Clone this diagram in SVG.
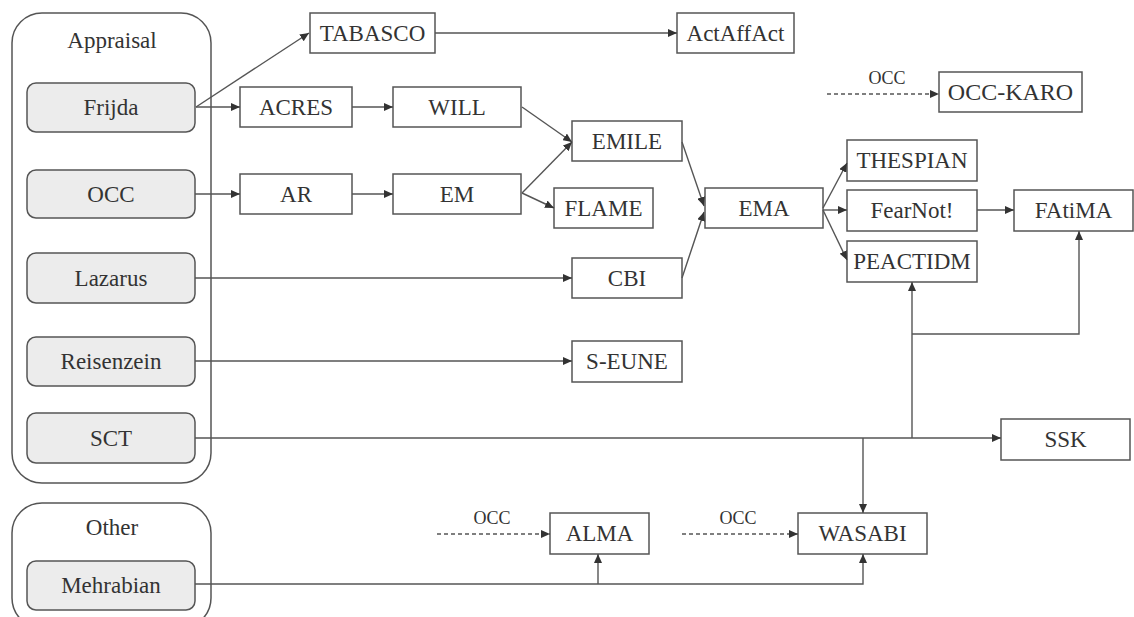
<svg xmlns="http://www.w3.org/2000/svg" width="1134" height="617" viewBox="0 0 1134 617">
<style>
.grp{fill:#fff;stroke:#555;stroke-width:1.5}
.src{fill:#ececec;stroke:#555;stroke-width:1.5}
.box{fill:#fff;stroke:#555;stroke-width:1.5}
.t{font-family:"Liberation Serif",serif;font-size:23px;fill:#333;text-anchor:middle}
.s{font-family:"Liberation Serif",serif;font-size:18px;fill:#333;text-anchor:middle}
.c{fill:none;stroke:#555;stroke-width:1.4}
.d{fill:none;stroke:#555;stroke-width:1.4;stroke-dasharray:4 3}
</style>
<defs>
<marker id="ah" markerUnits="userSpaceOnUse" markerWidth="9" markerHeight="8" refX="9" refY="4" orient="auto">
<path d="M0,0 L9,4 L0,8 z" fill="#333"/>
</marker>
</defs>
<rect width="1134" height="617" fill="#fff"/>
<g id="appraisal"><rect class="grp" x="12" y="13" width="199" height="470" rx="30"/><text class="t" x="112" y="48">Appraisal</text></g>
<g id="other"><rect class="grp" x="12" y="503" width="199" height="125" rx="30"/><text class="t" x="112" y="535">Other</text></g>
<g id="frijda"><rect class="src" x="27" y="83" width="168" height="49" rx="9"/><text class="t" x="111" y="115">Frijda</text></g>
<g id="occ"><rect class="src" x="27" y="170" width="168" height="48" rx="9"/><text class="t" x="111" y="202">OCC</text></g>
<g id="lazarus"><rect class="src" x="27" y="253" width="168" height="50" rx="9"/><text class="t" x="111" y="286">Lazarus</text></g>
<g id="reisenzein"><rect class="src" x="27" y="337" width="168" height="49" rx="9"/><text class="t" x="111" y="369">Reisenzein</text></g>
<g id="sct"><rect class="src" x="27" y="413" width="168" height="50" rx="9"/><text class="t" x="111" y="446">SCT</text></g>
<g id="mehrabian"><rect class="src" x="27" y="561" width="168" height="49" rx="9"/><text class="t" x="111" y="593">Mehrabian</text></g>
<g id="tabasco"><rect class="box" x="310" y="13" width="125" height="40"/><text class="t" x="372.5" y="41">TABASCO</text></g>
<g id="actaffact"><rect class="box" x="677" y="13" width="117" height="40"/><text class="t" x="735.5" y="41">ActAffAct</text></g>
<g id="acres"><rect class="box" x="240" y="87" width="112" height="40"/><text class="t" x="296" y="115">ACRES</text></g>
<g id="will"><rect class="box" x="393" y="87" width="128" height="40"/><text class="t" x="457" y="115">WILL</text></g>
<g id="ar"><rect class="box" x="240" y="174" width="112" height="40"/><text class="t" x="296" y="202">AR</text></g>
<g id="em"><rect class="box" x="393" y="174" width="128" height="40"/><text class="t" x="457" y="202">EM</text></g>
<g id="emile"><rect class="box" x="572" y="121" width="110" height="40"/><text class="t" x="627" y="149">EMILE</text></g>
<g id="flame"><rect class="box" x="554" y="188" width="99" height="40"/><text class="t" x="603.5" y="216">FLAME</text></g>
<g id="ema"><rect class="box" x="705" y="188" width="118" height="40"/><text class="t" x="764" y="216">EMA</text></g>
<g id="cbi"><rect class="box" x="572" y="258" width="110" height="40"/><text class="t" x="627" y="286">CBI</text></g>
<g id="seune"><rect class="box" x="572" y="341" width="110" height="41"/><text class="t" x="627" y="369">S-EUNE</text></g>
<g id="thespian"><rect class="box" x="847" y="140" width="130" height="41"/><text class="t" x="912" y="168">THESPIAN</text></g>
<g id="fearnot"><rect class="box" x="847" y="190" width="130" height="41"/><text class="t" x="912" y="218">FearNot!</text></g>
<g id="peactidm"><rect class="box" x="847" y="241" width="130" height="41"/><text class="t" x="912" y="269">PEACTIDM</text></g>
<g id="fatima"><rect class="box" x="1014" y="190" width="119" height="41"/><text class="t" x="1073.5" y="218">FAtiMA</text></g>
<g id="occkaro"><rect class="box" x="939" y="72" width="143" height="40"/><text class="t" x="1010.5" y="100" style="font-size:24px">OCC-KARO</text></g>
<g id="ssk"><rect class="box" x="1001" y="419" width="129" height="41"/><text class="t" x="1065.5" y="447">SSK</text></g>
<g id="alma"><rect class="box" x="550" y="513" width="99" height="41"/><text class="t" x="599.5" y="541">ALMA</text></g>
<g id="wasabi"><rect class="box" x="798" y="513" width="129" height="41"/><text class="t" x="862.5" y="541">WASABI</text></g>
<g id="connectors">
<line class="c" x1="196" y1="107" x2="309" y2="33" marker-end="url(#ah)"/>
<line class="c" x1="196" y1="107" x2="240" y2="107" marker-end="url(#ah)"/>
<line class="c" x1="352" y1="107" x2="393" y2="107" marker-end="url(#ah)"/>
<line class="c" x1="195" y1="194" x2="240" y2="194" marker-end="url(#ah)"/>
<line class="c" x1="352" y1="194" x2="393" y2="194" marker-end="url(#ah)"/>
<line class="c" x1="435" y1="33" x2="677" y2="33" marker-end="url(#ah)"/>
<line class="c" x1="522" y1="107" x2="572" y2="142" marker-end="url(#ah)"/>
<line class="c" x1="522" y1="193" x2="572" y2="142" marker-end="url(#ah)"/>
<line class="c" x1="522" y1="193" x2="554" y2="208" marker-end="url(#ah)"/>
<line class="c" x1="682" y1="142" x2="704" y2="206" marker-end="url(#ah)"/>
<line class="c" x1="682" y1="278" x2="704" y2="212" marker-end="url(#ah)"/>
<line class="c" x1="195" y1="278" x2="572" y2="278" marker-end="url(#ah)"/>
<line class="c" x1="195" y1="361" x2="572" y2="361" marker-end="url(#ah)"/>
<line class="c" x1="823" y1="208" x2="847" y2="163" marker-end="url(#ah)"/>
<line class="c" x1="823" y1="210" x2="847" y2="210" marker-end="url(#ah)"/>
<line class="c" x1="823" y1="210" x2="847" y2="260" marker-end="url(#ah)"/>
<line class="c" x1="977" y1="210" x2="1014" y2="210" marker-end="url(#ah)"/>
<line class="c" x1="195" y1="438" x2="1001" y2="438" marker-end="url(#ah)"/>
<line class="c" x1="912" y1="438" x2="912" y2="282" marker-end="url(#ah)"/>
<polyline class="c" points="912,334 1079,334 1079,231" marker-end="url(#ah)"/>
<line class="c" x1="863" y1="438" x2="863" y2="513" marker-end="url(#ah)"/>
<polyline class="c" points="195,584 863,584 863,554" marker-end="url(#ah)"/>
<line class="c" x1="598" y1="584" x2="598" y2="554" marker-end="url(#ah)"/>
<line class="d" x1="827" y1="94" x2="939" y2="94" marker-end="url(#ah)"/>
<line class="d" x1="437" y1="534" x2="550" y2="534" marker-end="url(#ah)"/>
<line class="d" x1="682" y1="534" x2="798" y2="534" marker-end="url(#ah)"/>
<text class="s" x="887" y="84">OCC</text>
<text class="s" x="492" y="524">OCC</text>
<text class="s" x="738" y="524">OCC</text>
</g>
</svg>
